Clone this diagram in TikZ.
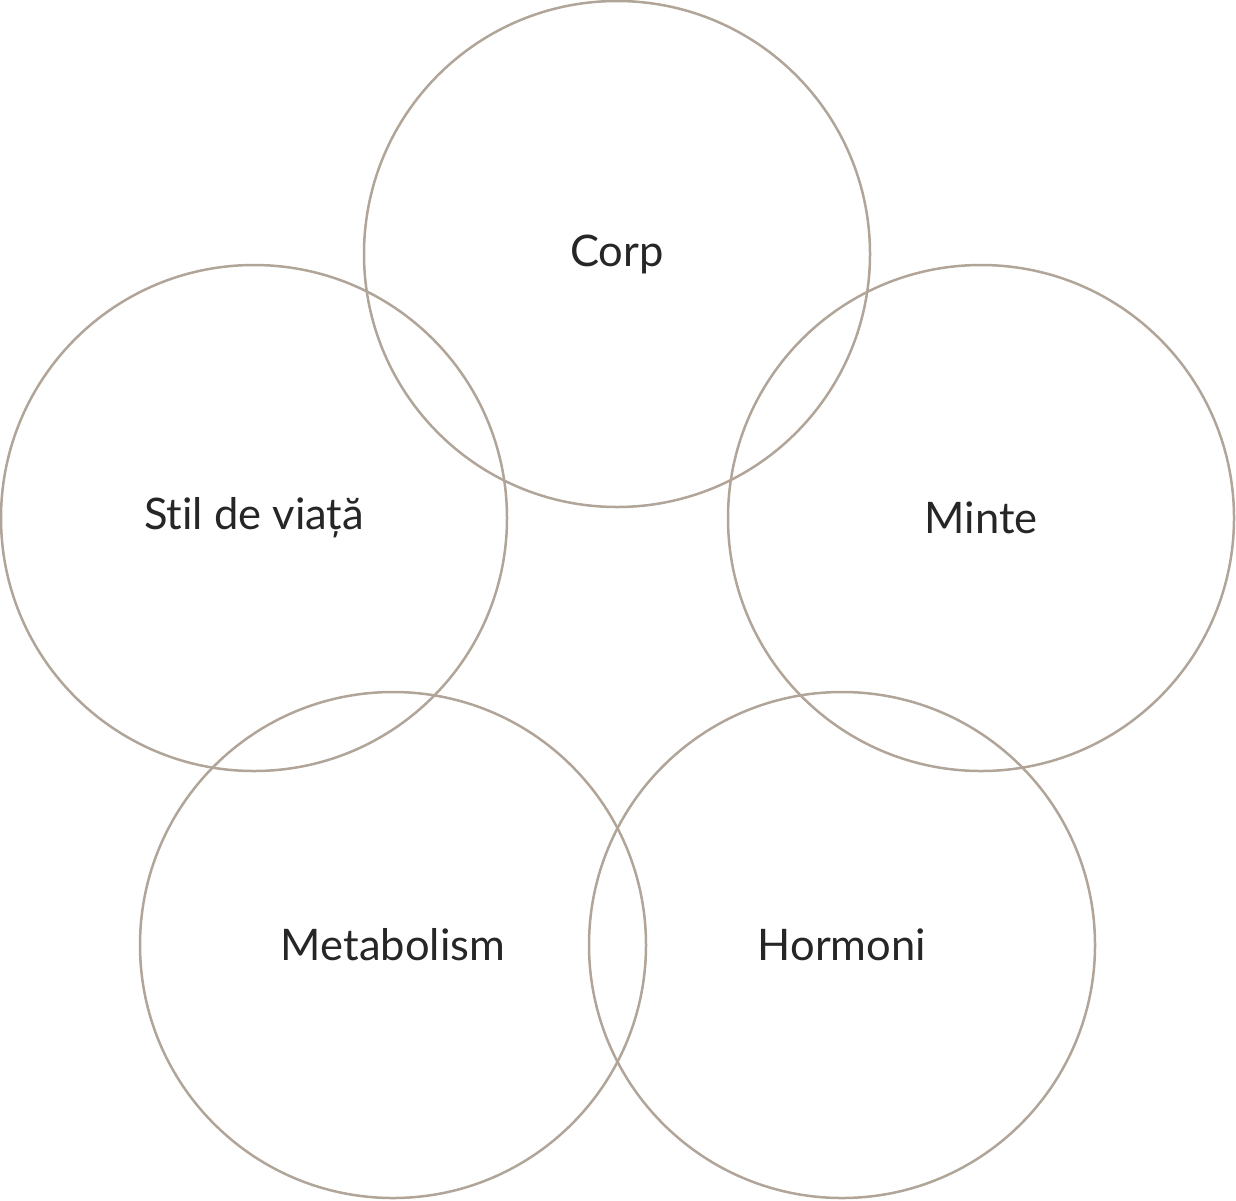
\documentclass[tikz,border=0pt]{standalone}
\usepackage{fontspec}
\setmainfont{Lato}[Ligatures={NoCommon}]
\definecolor{ring}{HTML}{B0A598}
\definecolor{ink}{HTML}{262626}
\begin{document}
\begin{tikzpicture}[x=1pt,y=-1pt,
  ringc/.style={circle,draw=ring,line width=2.5pt,minimum size=506pt,inner sep=0pt},
  lbl/.style={text=ink,font=\fontsize{43.5}{52}\selectfont}]
\useasboundingbox (0,0) rectangle (1236,1200);
\node[ringc] (corp) at (617,254) {};
\node[ringc] (stil) at (254,518) {};
\node[ringc] (minte) at (981,518) {};
\node[ringc] (meta) at (393,945) {};
\node[ringc] (horm) at (842,945) {};
\node[lbl] (tcorp) at (corp.center) {Corp};
\node[lbl] (tstil) at (stil.center) {Stil de viață};
\node[lbl] (tminte) at (minte.center) {Minte};
\node[lbl] (tmeta) at (meta.center) {Metabolism};
\node[lbl] (thorm) at (horm.center) {Hormoni};
\end{tikzpicture}
\end{document}
